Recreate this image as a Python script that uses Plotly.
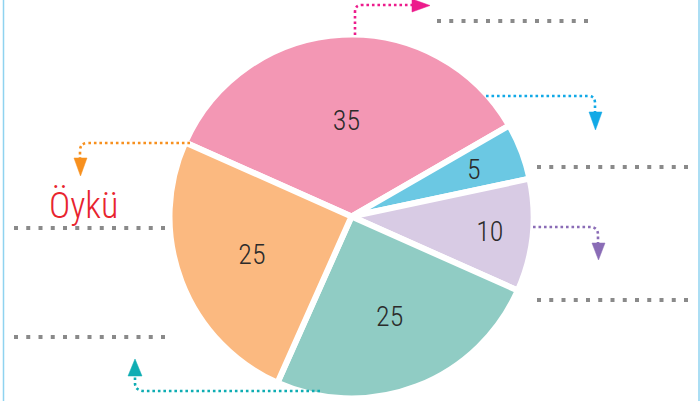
import math
import plotly.graph_objects as go

# Slice data (clockwise, starting with the largest slice)
slice_names = ["Pembe", "Mavi", "Lila", "Yeşil", "Turuncu"]
slice_values = [35, 5, 10, 25, 25]
slice_colors = ["#f397b4", "#6bc8e3", "#d8cbe4", "#90ccc4", "#fbb980"]

name_label = "Öykü"

W, H = 700, 401
CX, CY, R = 351.5, 216.5, 182  # pie centre and radius in pixels
ROTATION = -66
NARROW = "font-stretch:condensed;font-weight:300"
NUM_FONT = dict(family="Roboto", size=28, color="#2b2b2b")


def px(x, y):
    """Pixel position -> paper coordinates."""
    return x / W, 1 - y / H


def path(cmds):
    out = []
    for c in cmds:
        if isinstance(c, str):
            out.append(c)
        else:
            x, y = px(*c)
            out.append(f"{x:.5f},{y:.5f}")
    return " ".join(out)


# the thin slice gets its number as a free label so it keeps full size
SMALL = 1
positions = ["none" if i == SMALL else "inside" for i in range(len(slice_values))]

fig = go.Figure()
fig.add_trace(go.Pie(
    labels=slice_names,
    values=slice_values,
    sort=False,
    direction="clockwise",
    rotation=ROTATION,
    marker=dict(colors=slice_colors, line=dict(color="white", width=6)),
    texttemplate=f"<span style='{NARROW}'>%{{value}}</span>",
    textposition=positions,
    insidetextorientation="horizontal",
    textfont=NUM_FONT,
    domain=dict(x=[(CX - R) / W, (CX + R) / W],
                y=[(H - CY - R) / H, (H - CY + R) / H]),
    hoverinfo="skip",
    showlegend=False,
))

total = sum(slice_values)
mid = ROTATION + (sum(slice_values[:SMALL]) + slice_values[SMALL] / 2) / total * 360
lx = CX + 0.72 * R * math.sin(math.radians(mid))
ly = CY - 0.72 * R * math.cos(math.radians(mid))

shapes = []

# frame lines on both sides
for x in (3.5, 699):
    x0, y0 = px(x, 0)
    x1, y1 = px(x, H)
    shapes.append(dict(type="line", xref="paper", yref="paper", x0=x0, y0=y0, x1=x1, y1=y1,
                       line=dict(color="#8fd3f0", width=1.5)))

# grey dotted answer lines
for (xa, xb, y) in [(439, 586, 21), (539, 686, 167), (16, 163, 228), (539, 686, 300), (16, 163, 337)]:
    x0, y0 = px(xa - 2, y)
    x1, y1 = px(xb + 2, y)
    gap = (xb - xa) / 12 - 4
    shapes.append(dict(type="line", xref="paper", yref="paper", x0=x0, y0=y0, x1=x1, y1=y1,
                       line=dict(color="#8a8a8a", width=4, dash=f"4px,{gap:.2f}px")))

# coloured dotted arrows: (stem path, arrowhead triangle, colour)
arrows = [
    (["M", (355, 35), "L", (355, 12), "Q", (355, 5), (362, 5), "L", (412, 5)],
     ["M", (412, -1), "L", (430, 5.5), "L", (412, 12), "Z"], "#ec1c8c"),
    (["M", (486, 96), "L", (588, 96), "Q", (595, 96), (595, 103), "L", (595, 112)],
     ["M", (589, 112), "L", (602, 112), "L", (595.5, 130), "Z"], "#12a9e6"),
    (["M", (190, 143), "L", (88, 143), "Q", (80, 143), (80, 151), "L", (80, 158)],
     ["M", (74, 158), "L", (87, 158), "L", (80.5, 176), "Z"], "#f7901e"),
    (["M", (533, 227), "L", (590, 227), "Q", (598, 227), (598, 235), "L", (598, 243)],
     ["M", (592, 243), "L", (605, 243), "L", (598.5, 260), "Z"], "#8a6cb6"),
    (["M", (320, 391), "L", (145, 391), "Q", (135, 391), (135, 383), "L", (135, 376)],
     ["M", (128, 376), "L", (142, 376), "L", (135, 359), "Z"], "#0fadb3"),
]
for stem, head, col in arrows:
    shapes.append(dict(type="path", xref="paper", yref="paper", path=path(stem),
                       line=dict(color=col, width=2.6, dash="2.6px,2.9px")))
    shapes.append(dict(type="path", xref="paper", yref="paper", path=path(head),
                       fillcolor=col, line=dict(color=col, width=0.5)))

nx, ny = px(83.5, 206)
sx, sy = px(lx, ly)
fig.update_layout(
    width=W, height=H,
    margin=dict(l=0, r=0, t=0, b=0),
    paper_bgcolor="white", plot_bgcolor="white",
    shapes=shapes,
    annotations=[
        dict(xref="paper", yref="paper", x=nx, y=ny,
             text=f"<span style='{NARROW}'>{name_label}</span>",
             showarrow=False, xanchor="center", yanchor="middle",
             font=dict(family="Roboto", size=36, color="#e8242e")),
        dict(xref="paper", yref="paper", x=sx, y=sy,
             text=f"<span style='{NARROW}'>{slice_values[SMALL]}</span>",
             showarrow=False, xanchor="center", yanchor="middle", font=NUM_FONT),
    ],
    hovermode=False,
)

fig.write_html("out.html")
